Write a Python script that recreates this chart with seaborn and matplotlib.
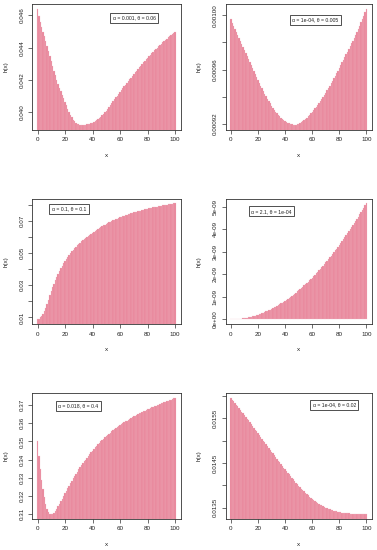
import numpy as np
import matplotlib
matplotlib.use('Agg')
import matplotlib.pyplot as plt
import seaborn as sns

# x grid shared by all six hazard panels
x_vals = np.arange(0, 101)

# alpha = 0.001, theta = 0.06
h_a = [0.04642, 0.04594, 0.04558, 0.04528, 0.04500, 0.04471, 0.04440, 0.04409, 0.04377, 0.04346,
       0.04316, 0.04287, 0.04258, 0.04229, 0.04200, 0.04175, 0.04151, 0.04128, 0.04106, 0.04085,
       0.04063, 0.04042, 0.04022, 0.04003, 0.03985, 0.03967, 0.03953, 0.03942, 0.03934, 0.03928,
       0.03924, 0.03922, 0.03921, 0.03921, 0.03922, 0.03923, 0.03925, 0.03927, 0.03929, 0.03932,
       0.03935, 0.03940, 0.03945, 0.03951, 0.03957, 0.03964, 0.03972, 0.03980, 0.03989, 0.03999,
       0.04010, 0.04022, 0.04033, 0.04045, 0.04056, 0.04068, 0.04080, 0.04091, 0.04103, 0.04114,
       0.04126, 0.04137, 0.04148, 0.04160, 0.04171, 0.04182, 0.04193, 0.04204, 0.04214, 0.04225,
       0.04236, 0.04246, 0.04257, 0.04267, 0.04278, 0.04288, 0.04298, 0.04308, 0.04317, 0.04327,
       0.04337, 0.04346, 0.04355, 0.04365, 0.04374, 0.04383, 0.04391, 0.04400, 0.04408, 0.04417,
       0.04425, 0.04433, 0.04440, 0.04448, 0.04455, 0.04463, 0.04470, 0.04477, 0.04484, 0.04491,
       0.04498]

# alpha = 1e-04, theta = 0.005  (values in 1e-6)
h_b_micro = [997.0, 994.6, 992.3, 990.0, 987.6, 985.3, 983.0, 980.8, 978.6, 976.4,
             974.2, 972.0, 969.8, 967.6, 965.4, 963.2, 961.0, 958.8, 956.6, 954.5,
             952.4, 950.3, 948.2, 946.2, 944.2, 942.3, 940.4, 938.6, 936.8, 935.1,
             933.5, 932.0, 930.5, 929.1, 927.8, 926.6, 925.5, 924.5, 923.6, 922.8,
             922.0, 921.4, 920.8, 920.3, 919.9, 919.6, 919.4, 919.3, 919.4, 919.7,
             920.1, 920.6, 921.2, 921.9, 922.7, 923.6, 924.6, 925.6, 926.7, 927.8,
             929.0, 930.2, 931.5, 932.8, 934.1, 935.5, 936.9, 938.4, 939.9, 941.5,
             943.1, 944.7, 946.4, 948.1, 949.8, 951.6, 953.5, 955.4, 957.3, 959.3,
             961.3, 963.3, 965.3, 967.3, 969.3, 971.3, 973.3, 975.3, 977.3, 979.3,
             981.3, 983.4, 985.6, 987.8, 990.0, 992.3, 994.8, 997.3, 999.8, 1002.3,
             1004.9]
h_b = np.array(h_b_micro) * 1e-6

# alpha = 0.1, theta = 0.1
h_c = [0.0088, 0.0093, 0.0100, 0.0110, 0.0123, 0.0139, 0.0160, 0.0185, 0.0211, 0.0237,
       0.0262, 0.0287, 0.0310, 0.0331, 0.0351, 0.0370, 0.0388, 0.0405, 0.0421, 0.0436,
       0.0450, 0.0463, 0.0475, 0.0487, 0.0498, 0.0509, 0.0519, 0.0529, 0.0538, 0.0547,
       0.0556, 0.0564, 0.0572, 0.0580, 0.0587, 0.0594, 0.0601, 0.0607, 0.0614, 0.0620,
       0.0626, 0.0632, 0.0638, 0.0644, 0.0650, 0.0656, 0.0661, 0.0666, 0.0671, 0.0676,
       0.0681, 0.0685, 0.0690, 0.0694, 0.0698, 0.0702, 0.0706, 0.0710, 0.0713, 0.0717,
       0.0720, 0.0723, 0.0727, 0.0730, 0.0733, 0.0736, 0.0739, 0.0742, 0.0745, 0.0748,
       0.0751, 0.0753, 0.0756, 0.0758, 0.0761, 0.0763, 0.0765, 0.0768, 0.0770, 0.0772,
       0.0774, 0.0776, 0.0778, 0.0780, 0.0782, 0.0784, 0.0786, 0.0788, 0.0790, 0.0792,
       0.0794, 0.0795, 0.0797, 0.0799, 0.0800, 0.0802, 0.0803, 0.0805, 0.0806, 0.0808,
       0.0809]

# alpha = 2.1, theta = 1e-04  (values in 1e-9)
h_d_nano = [0.000, 0.001, 0.002, 0.005, 0.008, 0.013, 0.019, 0.025, 0.033, 0.042,
            0.052, 0.062, 0.074, 0.087, 0.101, 0.116, 0.132, 0.149, 0.167, 0.186,
            0.206, 0.227, 0.249, 0.272, 0.297, 0.322, 0.348, 0.375, 0.404, 0.433,
            0.464, 0.495, 0.527, 0.561, 0.595, 0.631, 0.667, 0.705, 0.744, 0.783,
            0.824, 0.866, 0.908, 0.952, 0.997, 1.043, 1.090, 1.138, 1.187, 1.236,
            1.288, 1.340, 1.393, 1.447, 1.502, 1.558, 1.615, 1.673, 1.732, 1.793,
            1.854, 1.916, 1.980, 2.044, 2.109, 2.176, 2.243, 2.312, 2.381, 2.452,
            2.524, 2.596, 2.670, 2.744, 2.820, 2.897, 2.975, 3.053, 3.133, 3.214,
            3.296, 3.379, 3.463, 3.548, 3.634, 3.721, 3.809, 3.898, 3.988, 4.079,
            4.172, 4.265, 4.359, 4.454, 4.551, 4.648, 4.746, 4.846, 4.946, 5.048,
            5.150]
h_d = np.array(h_d_nano) * 1e-9

# alpha = 0.018, theta = 0.4
h_e = [0.3504, 0.3418, 0.3350, 0.3290, 0.3238, 0.3193, 0.3157, 0.3130, 0.3113, 0.3104,
       0.3101, 0.3103, 0.3109, 0.3118, 0.3130, 0.3144, 0.3158, 0.3172, 0.3186, 0.3201,
       0.3216, 0.3230, 0.3244, 0.3258, 0.3272, 0.3285, 0.3298, 0.3311, 0.3323, 0.3335,
       0.3347, 0.3358, 0.3369, 0.3380, 0.3391, 0.3401, 0.3411, 0.3421, 0.3431, 0.3440,
       0.3449, 0.3458, 0.3467, 0.3476, 0.3484, 0.3492, 0.3500, 0.3508, 0.3515, 0.3522,
       0.3529, 0.3536, 0.3543, 0.3549, 0.3555, 0.3561, 0.3567, 0.3573, 0.3579, 0.3584,
       0.3590, 0.3595, 0.3600, 0.3605, 0.3610, 0.3615, 0.3620, 0.3624, 0.3629, 0.3633,
       0.3638, 0.3642, 0.3646, 0.3650, 0.3654, 0.3658, 0.3662, 0.3666, 0.3669, 0.3673,
       0.3677, 0.3680, 0.3684, 0.3687, 0.3690, 0.3694, 0.3697, 0.3700, 0.3703, 0.3706,
       0.3709, 0.3712, 0.3715, 0.3718, 0.3721, 0.3724, 0.3727, 0.3730, 0.3733, 0.3736,
       0.3739]

# alpha = 1e-04, theta = 0.02  (values in 1e-3)
h_f_milli = [15.955, 15.917, 15.879, 15.841, 15.803, 15.765, 15.727, 15.689, 15.651, 15.612,
             15.573, 15.532, 15.491, 15.450, 15.409, 15.368, 15.327, 15.286, 15.245, 15.204,
             15.163, 15.122, 15.081, 15.040, 14.999, 14.958, 14.917, 14.876, 14.835, 14.794,
             14.753, 14.712, 14.671, 14.630, 14.590, 14.550, 14.510, 14.470, 14.431, 14.392,
             14.353, 14.315, 14.277, 14.240, 14.203, 14.167, 14.130, 14.094, 14.058, 14.023,
             13.990, 13.956, 13.923, 13.891, 13.860, 13.830, 13.801, 13.773, 13.746, 13.720,
             13.695, 13.671, 13.648, 13.626, 13.605, 13.585, 13.566, 13.548, 13.531, 13.515,
             13.500, 13.486, 13.473, 13.461, 13.450, 13.440, 13.431, 13.422, 13.414, 13.407,
             13.400, 13.394, 13.388, 13.383, 13.378, 13.374, 13.370, 13.367, 13.364, 13.361,
             13.359, 13.357, 13.355, 13.354, 13.353, 13.352, 13.351, 13.351, 13.351, 13.351,
             13.351]
h_f = np.array(h_f_milli) * 1e-3

legend_texts = ['α = 0.001, θ = 0.06', 'α = 1e-04, θ = 0.005', 'α = 0.1, θ = 0.1',
                'α = 2.1, θ = 1e-04', 'α = 0.018, θ = 0.4', 'α = 1e-04, θ = 0.02']

yticks_a = [0.040, 0.042, 0.044, 0.046]
ylabels_a = ['0.040', '0.042', '0.044', '0.046']
yticks_b = [0.00092, 0.00094, 0.00096, 0.00098, 0.00100]
ylabels_b = ['0.00092', '', '0.00096', '', '0.00100']
yticks_c = [0.01, 0.02, 0.03, 0.04, 0.05, 0.06, 0.07, 0.08]
ylabels_c = ['0.01', '', '0.03', '', '0.05', '', '0.07', '']
yticks_d = [0, 1e-9, 2e-9, 3e-9, 4e-9, 5e-9]
ylabels_d = ['0e+00', '1e-09', '2e-09', '3e-09', '4e-09', '5e-09']
yticks_e = [0.31, 0.32, 0.33, 0.34, 0.35, 0.36, 0.37]
ylabels_e = ['0.31', '0.32', '0.33', '0.34', '0.35', '0.36', '0.37']
yticks_f = [0.0135, 0.0140, 0.0145, 0.0150, 0.0155, 0.0160]
ylabels_f = ['0.0135', '', '0.0145', '', '0.0155', '']

xticks = [0, 20, 40, 60, 80, 100]

series = [h_a, h_b, h_c, h_d, h_e, h_f]
ytick_sets = [(yticks_a, ylabels_a), (yticks_b, ylabels_b), (yticks_c, ylabels_c),
              (yticks_d, ylabels_d), (yticks_e, ylabels_e), (yticks_f, ylabels_f)]

# legend box centres (pixels from top-left of the figure)
legend_centres = [(134.3, 17.7), (315.3, 19.7), (68.8, 208.7),
                  (271.5, 211.3), (78.3, 406.0), (334.2, 404.8)]

W, H = 377, 550
BAR = '#E8869B'
EDGE = '#333333'

sns.set_style('white')
plt.rcParams['font.family'] = ['Liberation Sans', 'DejaVu Sans']

fig = plt.figure(figsize=(W / 100, H / 100), dpi=100)
fig.patch.set_facecolor('white')

lefts = [32.0, 225.5]
widths = [148.6, 146.4]
tops = [4.0, 198.5, 393.3]
box_h = 125.5

for i, h in enumerate(series):
    col, row = i % 2, i // 2
    ax = fig.add_axes([lefts[col] / W, 1 - (tops[row] + box_h) / H,
                       widths[col] / W, box_h / H])
    sns.barplot(x=x_vals, y=np.asarray(h), native_scale=True, width=1.0,
                color=BAR, saturation=1, linewidth=0.15, edgecolor='#F3B8C4',
                errorbar=None, ax=ax)

    # R-style axis range: data range padded by 4%
    lo, hi = float(np.min(h)), float(np.max(h))
    pad = 0.04 * (hi - lo)
    ax.set_ylim(lo - pad, hi + pad)
    ax.set_xlim(-4, 104)

    ticks, labels = ytick_sets[i]
    ax.set_xticks(xticks)
    ax.set_xticklabels([str(t) for t in xticks])
    ax.set_yticks(ticks)
    ax.set_yticklabels(labels)
    for lab in ax.get_yticklabels():
        lab.set_rotation(90)
        lab.set_va('center')

    ax.tick_params(axis='both', length=3, width=0.5, color=EDGE,
                   labelsize=4.5, pad=2.5, labelcolor='#222222',
                   bottom=True, left=True)
    for sp in ax.spines.values():
        sp.set_visible(True)
        sp.set_color(EDGE)
        sp.set_linewidth(0.6)

    ax.set_xlabel('x', fontsize=4.5, color='#222222')
    ax.set_ylabel('h(x)', fontsize=4.5, color='#222222')
    ax.xaxis.set_label_coords(0.5, -0.187)
    ax.yaxis.set_label_coords(-23.4 / widths[col], 0.5)

    cx, cy = legend_centres[i]
    fig.text(cx / W, 1 - cy / H, legend_texts[i], ha='center', va='center',
             fontsize=3.7, color='#222222',
             bbox=dict(boxstyle='square,pad=0.5', fc='white', ec=EDGE, lw=0.6))

fig.savefig('out.png', dpi=100, facecolor='white')
